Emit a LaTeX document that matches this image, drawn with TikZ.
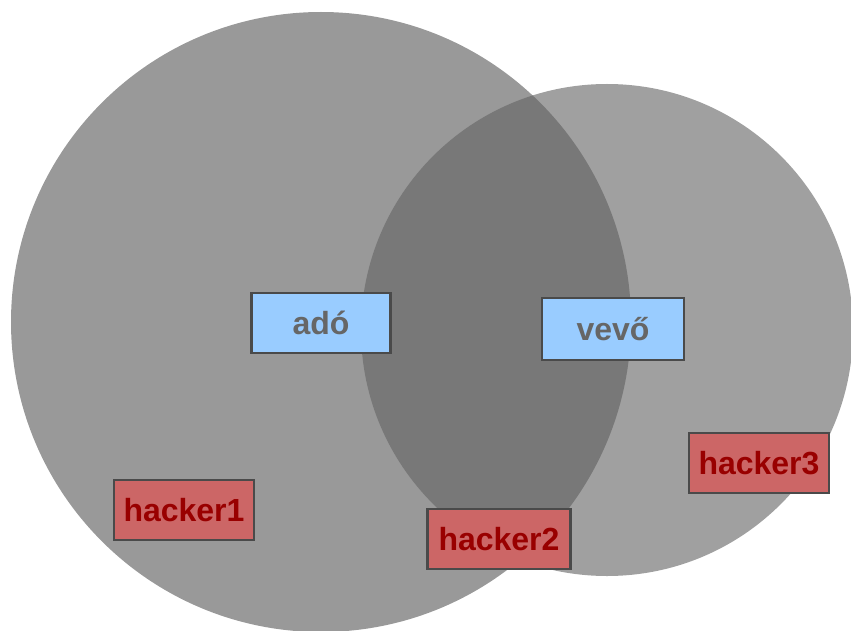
\documentclass[tikz,border=0pt]{standalone}
\usepackage{fontspec}
\setmainfont{Liberation Sans}
\definecolor{leftgray}{HTML}{999999}
\definecolor{rightgray}{HTML}{A0A0A0}
\definecolor{overlapgray}{HTML}{787878}
\definecolor{boxblue}{HTML}{99CCFF}
\definecolor{boxred}{HTML}{CC6666}
\definecolor{txtgray}{HTML}{666666}
\definecolor{txtred}{HTML}{990000}
\definecolor{edgegray}{HTML}{4A4A4A}
\begin{document}
\begin{tikzpicture}[x=1pt,y=-1pt,
  box/.style={draw=edgegray,line width=2.6pt,minimum height=60pt,inner sep=0pt,
    font=\fontsize{32}{38}\selectfont\bfseries},
  bluebox/.style={box,fill=boxblue,text=txtgray},
  redbox/.style={box,fill=boxred,text=txtred}]
\useasboundingbox (0,0) rectangle (851,631);
% circles
\fill[leftgray] (321,322) circle[radius=310];
\fill[rightgray] (607,330) circle[radius=246];
\begin{scope}
  \clip (321,322) circle[radius=310];
  \fill[overlapgray] (607,330) circle[radius=246];
\end{scope}
% nodes
\node[bluebox,minimum width=139pt] (ado) at (321,323) {adó};
\node[bluebox,minimum width=142pt,minimum height=62pt] (vevo) at (613,329) {vevő};
\node[redbox,minimum width=140pt] (h1) at (184,510) {hacker1};
\node[redbox,minimum width=143pt] (h2) at (499,539) {hacker2};
\node[redbox,minimum width=140pt] (h3) at (759,463) {hacker3};
\end{tikzpicture}
\end{document}
